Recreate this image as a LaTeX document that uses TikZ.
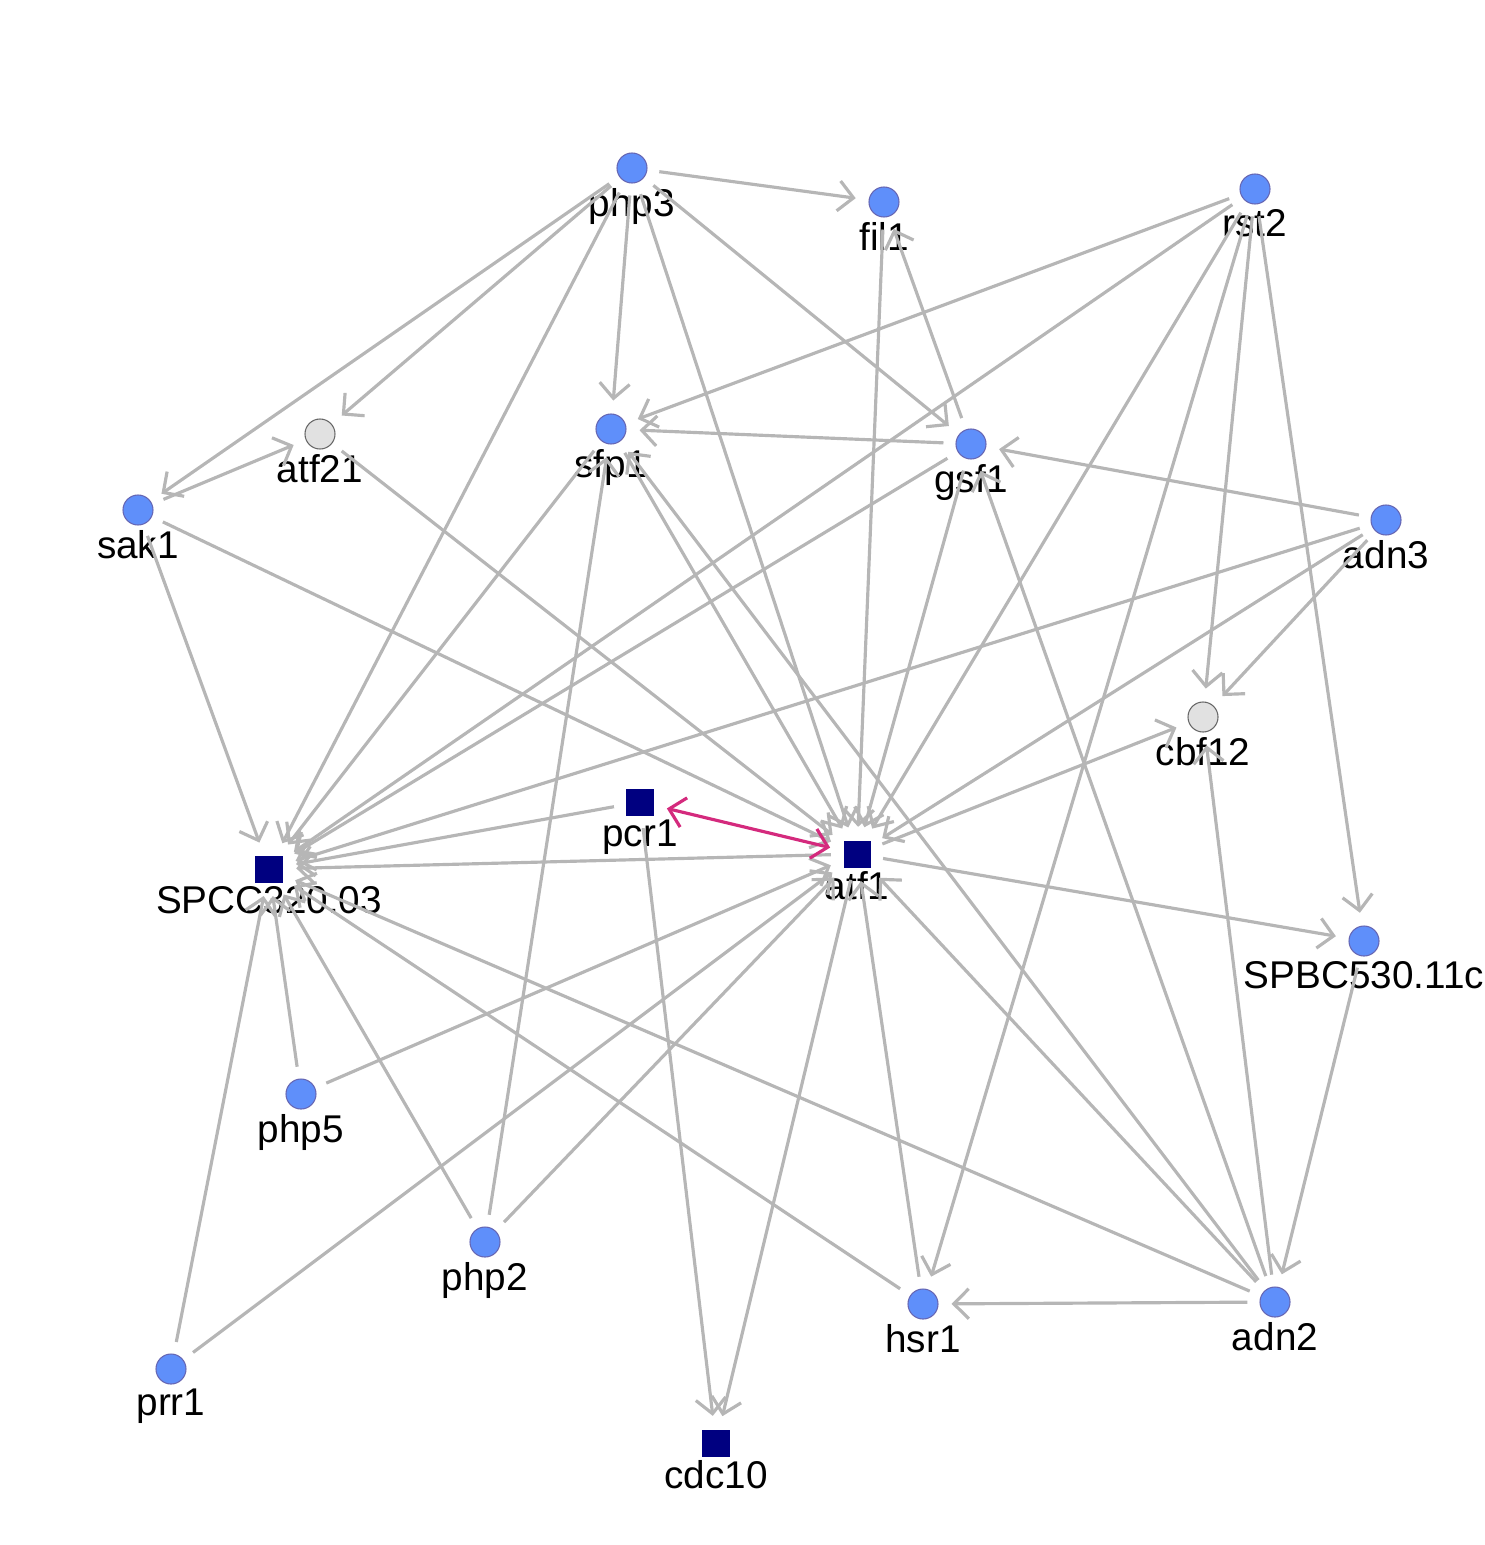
\documentclass[tikz,border=0pt]{standalone}
\usepackage{fontspec}
\setmainfont{Liberation Sans}
\usetikzlibrary{arrows.meta}
\definecolor{eg}{RGB}{182,182,182}
\definecolor{nb}{RGB}{95,143,250}
\definecolor{nv}{RGB}{0,0,128}
\definecolor{ng}{RGB}{225,225,225}
\definecolor{mg}{RGB}{212,42,125}
\begin{document}
\begin{tikzpicture}[x=0.01cm,y=-0.01cm,
  lab/.style={font=\fontsize{11}{12}\selectfont,text=black,inner sep=0pt},
  cn/.style={circle,fill=nb,draw=nv!60,line width=0.3pt,minimum size=0.3cm,inner sep=0pt,label={[lab,label distance=0.04cm]below:#1}},
  gn/.style={circle,fill=ng,draw=black!60,line width=0.3pt,minimum size=0.3cm,inner sep=0pt,label={[lab,label distance=0.04cm]below:#1}},
  sn/.style={rectangle,fill=nv,minimum size=0.27cm,inner sep=0pt,label={[lab,label distance=0.03cm]below:#1}},
  ed/.style={draw=eg,line width=0.9pt,-{Straight Barb[length=0.15cm,width=0.3cm]},shorten >=0.13cm,shorten <=0.12cm}]
\useasboundingbox (0,0) rectangle (1484,1545);
\node[cn=php3] (php3) at (632,168) {};
\node[cn=fil1] (fil1) at (884,202) {};
\node[cn=rst2] (rst2) at (1255,189) {};
\node[gn=atf21] (atf21) at (320,434) {};
\node[cn=sfp1] (sfp1) at (611,429) {};
\node[cn=gsf1] (gsf1) at (971,444) {};
\node[cn=sak1] (sak1) at (138,510) {};
\node[cn=adn3] (adn3) at (1386,520) {};
\node[gn=cbf12] (cbf12) at (1203,717) {};
\node[sn=pcr1] (pcr1) at (640,802) {};
\node[sn=atf1] (atf1) at (857,854) {};
\node[sn=SPCC320.03] (spcc) at (269,869) {};
\node[cn=SPBC530.11c] (spbc) at (1364,941) {};
\node[cn=php5] (php5) at (301,1094) {};
\node[cn=php2] (php2) at (485,1242) {};
\node[cn=hsr1] (hsr1) at (923,1304) {};
\node[cn=adn2] (adn2) at (1275,1302) {};
\node[cn=prr1] (prr1) at (171,1369) {};
\node[sn=cdc10] (cdc10) at (716,1443) {};
\begin{scope}[on background layer/.style={}]
\foreach \a/\b in {php3/fil1,php3/atf21,php3/sak1,php3/sfp1,php3/spcc,php3/atf1,php3/gsf1,
 fil1/atf1,gsf1/fil1,rst2/sfp1,rst2/spcc,rst2/atf1,rst2/hsr1,rst2/cbf12,rst2/spbc,
 sak1/atf21,sak1/spcc,sak1/atf1,atf21/atf1,sfp1/spcc,sfp1/atf1,adn2/sfp1,php2/sfp1,
 gsf1/sfp1,gsf1/spcc,gsf1/atf1,adn2/gsf1,adn3/gsf1,adn3/spcc,adn3/atf1,adn3/cbf12,
 atf1/cbf12,adn2/cbf12,pcr1/spcc,pcr1/cdc10,atf1/spcc,atf1/spbc,atf1/cdc10,hsr1/atf1,adn2/atf1,
 php5/spcc,php2/spcc,prr1/spcc,hsr1/spcc,adn2/spcc,php5/atf1,php2/atf1,prr1/atf1,adn2/hsr1,spbc/adn2}
 {\draw[ed] (\a) -- (\b);}
\draw[ed,draw=mg,{Straight Barb[length=0.15cm,width=0.3cm]}-{Straight Barb[length=0.15cm,width=0.3cm]},shorten <=0.13cm] (pcr1) -- (atf1);
\end{scope}
\end{tikzpicture}
\end{document}
